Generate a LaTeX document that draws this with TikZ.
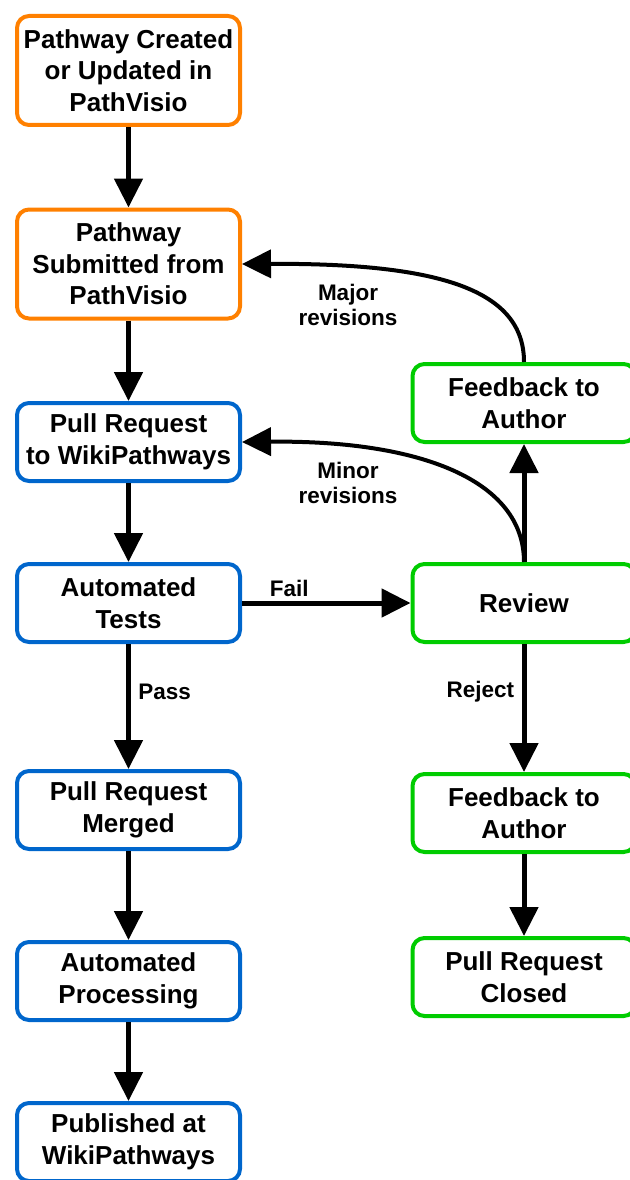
\documentclass[tikz,border=0pt]{standalone}
\usepackage{fontspec}
\setmainfont{Liberation Sans}
\usetikzlibrary{arrows.meta}
\definecolor{corange}{RGB}{255,128,0}
\definecolor{cblue}{RGB}{0,102,204}
\definecolor{cgreen}{RGB}{0,204,0}
\tikzset{
  box/.style={draw, line width=4pt, rounded corners=12pt, minimum width=223pt, minimum height=78pt,
    align=center, inner sep=2pt, font=\fontsize{26}{31.5}\selectfont\bfseries, fill=white},
  tallbox/.style={box, minimum height=109pt},
  orangebox/.style={draw=corange},
  bluebox/.style={draw=cblue},
  greenbox/.style={draw=cgreen},
  arr/.style={line width=5pt, -{Triangle[length=29pt,width=28pt]}},
  curvearr/.style={line width=4pt, -{Triangle[length=29pt,width=28pt]}},
  lbl/.style={font=\fontsize{22.5}{25}\selectfont\bfseries, align=center}
}
\begin{document}
\begin{tikzpicture}[x=1pt,y=-1pt]
\useasboundingbox (0,0) rectangle (629,1180);
\node[tallbox,orangebox] (b1) at (128.5,70.5) {Pathway Created\\or Updated in\\PathVisio};
\node[tallbox,orangebox] (b2) at (128.5,264) {Pathway\\Submitted from\\PathVisio};
\node[box,bluebox] (b3) at (128.5,442) {Pull Request\\to WikiPathways};
\node[box,bluebox] (b4) at (128.5,603) {Automated\\Tests};
\node[box,bluebox] (b5) at (128.5,810) {Pull Request\\Merged};
\node[box,bluebox] (b6) at (128.5,981) {Automated\\Processing};
\node[box,bluebox] (b7) at (128.5,1142) {Published at\\WikiPathways};
\node[box,greenbox] (f1) at (524,403) {Feedback to\\Author};
\node[box,greenbox] (rv) at (524,603) {Review};
\node[box,greenbox] (f2) at (524,813) {Feedback to\\Author};
\node[box,greenbox] (cl) at (524,977) {Pull Request\\Closed};

\draw[arr] (b1) -- (b2);
\draw[arr] (b2) -- (b3);
\draw[arr] (b3) -- (b4);
\draw[arr] (b4) -- node[lbl, right, pos=0.38, xshift=4pt] {Pass} (b5);
\draw[arr] (b5) -- (b6);
\draw[arr] (b6) -- (b7);
\draw[arr] (b4) -- node[lbl, above, pos=0.28, yshift=0pt] {Fail} (rv);
\draw[arr] (rv) -- node[lbl, left, pos=0.37, xshift=-4pt] {Reject} (f2);
\draw[arr] (f2) -- (cl);
\draw[arr] (rv) -- (f1);
\draw[curvearr] (f1.north) .. controls (524,290) and (440,263) .. (b2.east);
\draw[curvearr] (rv.north) .. controls (524,480) and (420,440) .. (b3.east);
\node[lbl] (lmaj) at (348,305) {Major\\revisions};
\node[lbl] (lmin) at (348,483) {Minor\\revisions};
\end{tikzpicture}
\end{document}
